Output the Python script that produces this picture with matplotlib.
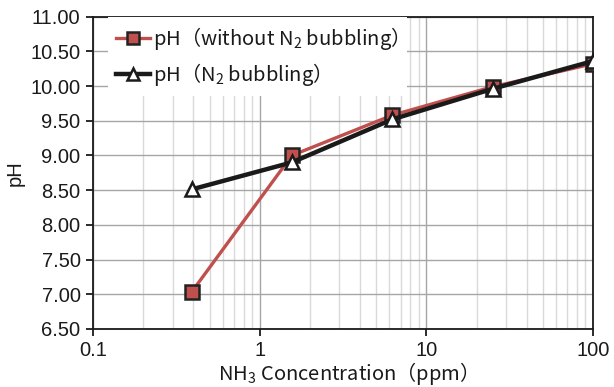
import matplotlib
matplotlib.use("Agg")
import matplotlib.pyplot as plt
from matplotlib.ticker import FixedLocator, FormatStrFormatter, LogLocator, NullFormatter

plt.rcParams['font.family'] = ['Noto Sans CJK JP', 'DejaVu Sans']
plt.rcParams['mathtext.fontset'] = 'custom'
plt.rcParams['mathtext.rm'] = 'Noto Sans CJK JP'
plt.rcParams['mathtext.it'] = 'Noto Sans CJK JP'

# data
conc = [0.39, 1.56, 6.25, 25, 100]
ph_no_n2 = [7.03, 9.00, 9.58, 9.99, 10.32]
ph_n2 = [8.51, 8.90, 9.52, 9.96, 10.36]
x_ticks = [0.1, 1, 10, 100]
x_labels = ["0.1", "1", "10", "100"]
y_ticks = [6.5, 7.0, 7.5, 8.0, 8.5, 9.0, 9.5, 10.0, 10.5, 11.0]

fig = plt.figure(figsize=(6.14, 3.87), dpi=100)
ax = fig.add_axes([0.1515, 0.150, 0.8143, 0.807])

ax.plot(conc, ph_no_n2, color="#c0504d", lw=2.4, marker="s", ms=10,
        mfc="#c0504d", mec="#222222", mew=1.8, label="pH（without N$_2$ bubbling）", zorder=3)
ax.plot(conc, ph_n2, color="#1a1a1a", lw=3.2, marker="^", ms=10,
        mfc="white", mec="#1a1a1a", mew=1.8, label="pH（N$_2$ bubbling）", zorder=4)

ax.set_xscale("log")
ax.set_xlim(0.1, 100)
ax.set_ylim(6.5, 11.0)
ax.xaxis.set_major_locator(FixedLocator(x_ticks))
ax.xaxis.set_minor_locator(LogLocator(base=10, subs=range(2, 10)))
ax.xaxis.set_minor_formatter(NullFormatter())
ax.set_xticklabels(x_labels)
ax.yaxis.set_major_locator(FixedLocator(y_ticks))
ax.yaxis.set_major_formatter(FormatStrFormatter("%.2f"))

ax.grid(which="major", color="#a6a6a6", lw=1)
ax.grid(which="minor", axis="x", color="#d9d9d9", lw=1)
ax.set_axisbelow(True)

for s in ax.spines.values():
    s.set_color("#1a1a1a")
    s.set_linewidth(1.3)
ax.tick_params(axis="both", which="major", labelsize=14.5, length=5, width=1.3,
               direction="out", color="#1a1a1a", pad=4)
ax.tick_params(axis="x", which="minor", length=0)
for lbl in ax.get_xticklabels() + ax.get_yticklabels():
    lbl.set_fontfamily("Liberation Sans")
    lbl.set_color("#1a1a1a")

ax.set_xlabel("NH$_3$ Concentration（ppm）", fontsize=14.5, labelpad=0, color="#1a1a1a")
ax.set_ylabel("pH", fontsize=14.5, labelpad=4, family="Liberation Sans", color="#1a1a1a")

leg = ax.legend(loc="upper left", bbox_to_anchor=(0.03, 1.0), fontsize=14.5, frameon=True,
                fancybox=False, edgecolor="none", framealpha=1, handlelength=1.7,
                handletextpad=0.15, borderaxespad=0.0, labelspacing=0.45, borderpad=0.4)
for h in leg.legend_handles:
    h.set_markersize(8)
for t in leg.get_texts():
    t.set_color("#1a1a1a")

fig.savefig("out.png", dpi=100)
